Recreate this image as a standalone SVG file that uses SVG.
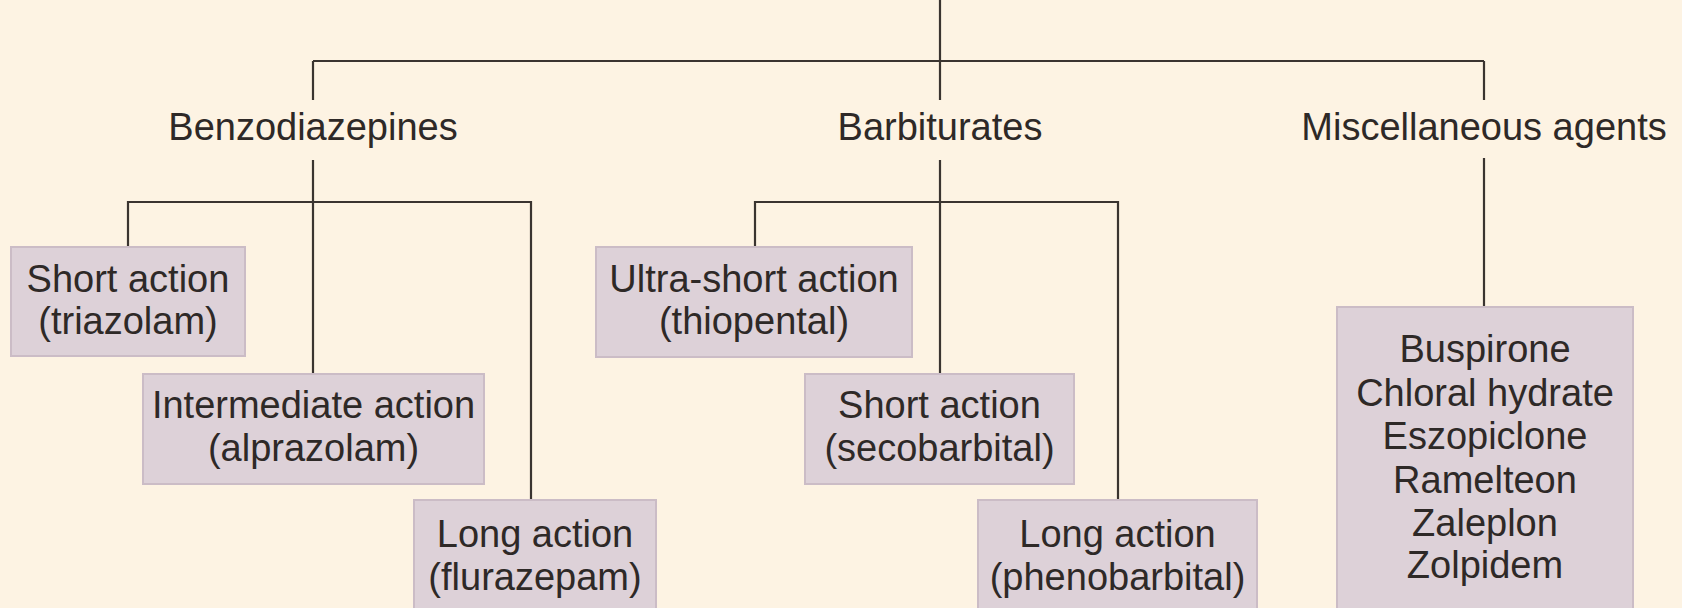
<svg xmlns="http://www.w3.org/2000/svg" width="1682" height="608" viewBox="0 0 1682 608">
<style>
.bg{fill:#fdf3e3}
.box{fill:#ddd1d8;stroke:#cbbcc6;stroke-width:2}
.ln{stroke:#3a3430;stroke-width:2.2;fill:none}
text{font-family:"Liberation Sans",Arial,Helvetica,sans-serif;font-size:38px;fill:#2e2927;text-anchor:middle}
</style>
<rect class="bg" x="0" y="0" width="1682" height="608"/>
<g id="connectors">
<path class="ln" d="M940 0V100M940 160V374"/>
<path class="ln" d="M313 61H1484"/>
<path class="ln" d="M313 61V100M313 160V374"/>
<path class="ln" d="M1484 61V100M1484 158V307"/>
<path class="ln" d="M128 247V202H531V500"/>
<path class="ln" d="M755 247V202H1118V500"/>
</g>
<g id="benzodiazepines"><text x="313" y="140">Benzodiazepines</text></g>
<g id="barbiturates"><text x="940" y="140">Barbiturates</text></g>
<g id="misc"><text x="1484" y="140">Miscellaneous agents</text></g>
<g id="benzo-short">
<rect class="box" x="11" y="247" width="234" height="109"/>
<text x="128" y="292">Short action</text>
<text x="128" y="334">(triazolam)</text>
</g>
<g id="benzo-intermediate">
<rect class="box" x="143" y="374" width="341" height="110"/>
<text x="313.5" y="418">Intermediate action</text>
<text x="313.5" y="461">(alprazolam)</text>
</g>
<g id="benzo-long">
<rect class="box" x="414" y="500" width="242" height="120"/>
<text x="535" y="547">Long action</text>
<text x="535" y="590">(flurazepam)</text>
</g>
<g id="barb-ultrashort">
<rect class="box" x="596" y="247" width="316" height="110"/>
<text x="754" y="292">Ultra-short action</text>
<text x="754" y="334">(thiopental)</text>
</g>
<g id="barb-short">
<rect class="box" x="805" y="374" width="269" height="110"/>
<text x="939.5" y="418">Short action</text>
<text x="939.5" y="461">(secobarbital)</text>
</g>
<g id="barb-long">
<rect class="box" x="978" y="500" width="279" height="120"/>
<text x="1117.5" y="547">Long action</text>
<text x="1117.5" y="590">(phenobarbital)</text>
</g>
<g id="misc-agents">
<rect class="box" x="1337" y="307" width="296" height="310"/>
<text x="1485" y="362">Buspirone</text>
<text x="1485" y="406">Chloral hydrate</text>
<text x="1485" y="449">Eszopiclone</text>
<text x="1485" y="493">Ramelteon</text>
<text x="1485" y="536">Zaleplon</text>
<text x="1485" y="578">Zolpidem</text>
</g>
</svg>
